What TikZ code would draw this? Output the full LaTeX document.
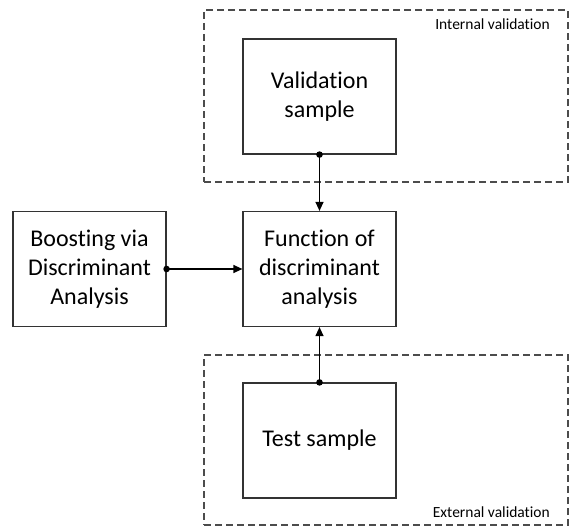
\documentclass[tikz,border=0pt]{standalone}
\usepackage{fontspec}
\setmainfont{Carlito}[Ligatures=NoCommon]
\usetikzlibrary{arrows.meta}
\begin{document}
\begin{tikzpicture}[x=1pt,y=-1pt,
  box/.style={draw=black!80,line width=1.2pt,rectangle,minimum width=153pt,minimum height=115pt,inner sep=0pt,align=center,font=\fontsize{24}{29}\selectfont},
  group/.style={draw=black!70,line width=1.1pt,dash pattern=on 7pt off 4pt,rectangle,inner sep=0pt},
  lab/.style={font=\fontsize{15.5}{18}\selectfont,inner sep=0pt},
  conn/.style={line width=1.2pt,draw=black,-{Triangle[length=9pt,width=8pt]}},
  dot/.style={fill=black}]
\useasboundingbox (0,0) rectangle (570,527);
\node[group,minimum width=364pt,minimum height=172pt] (int) at (386,96) {};
\node[group,minimum width=364pt,minimum height=170pt] (ext) at (386,440) {};
\node[lab,anchor=base east] (intl) at (550,30) {Internal validation};
\node[lab,anchor=base east] (extl) at (550,517) {External validation};
\node[box] (val) at (319.5,96.5) {Validation\\sample};
\node[box] (fun) at (319.5,269) {Function of\\discriminant\\analysis};
\node[box] (boost) at (89.5,269) {Boosting via\\Discriminant\\Analysis};
\node[box] (test) at (319.5,440.5) {Test sample};
\draw[conn] (val.south) -- (fun.north);
\draw[conn] (boost.east) -- (fun.west);
\draw[conn] (test.north) -- (fun.south);
\fill[dot] (val.south) circle (3.3pt);
\fill[dot] (boost.east) circle (3.3pt);
\fill[dot] (test.north) circle (3.3pt);
\end{tikzpicture}
\end{document}
